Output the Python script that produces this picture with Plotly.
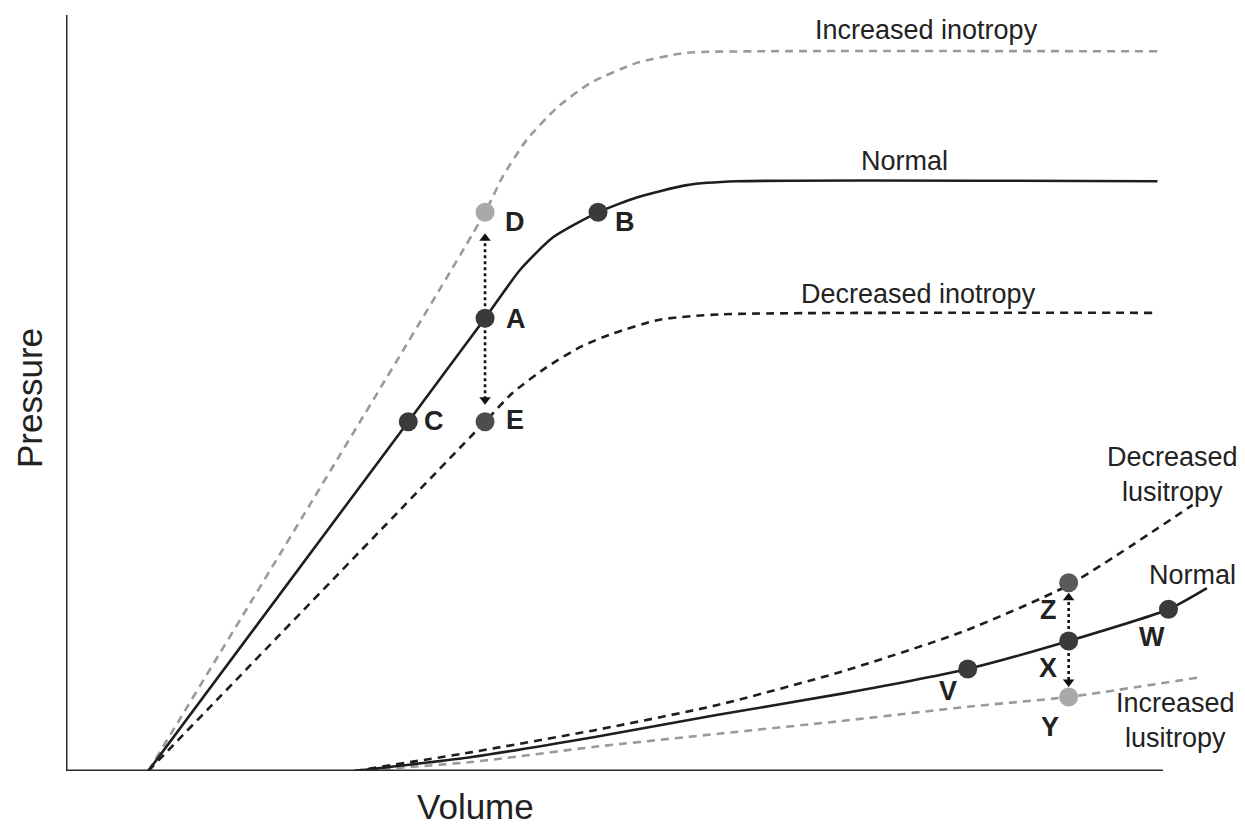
import plotly.graph_objects as go

# ---- End-systolic pressure-volume relations (volume, pressure in arbitrary units) ----
esp_normal_v = [7.5, 31.2, 38.2, 41.4, 44.4, 48.5, 52.1, 56.6, 61.2, 99.5]
esp_normal_p = [0.0, 46.2, 59.9, 66.3, 70.6, 73.9, 75.9, 77.5, 78.0, 78.0]

esp_inc_v = [7.5, 38.2, 39.8, 42.0, 44.8, 47.8, 52.1, 56.6, 63.0, 99.5]
esp_inc_p = [0.0, 73.9, 78.6, 83.5, 87.8, 91.0, 93.7, 95.0, 95.2, 95.2]

esp_dec_v = [7.5, 38.2, 40.7, 43.8, 46.9, 49.9, 54.1, 59.6, 99.5]
esp_dec_p = [0.0, 46.2, 50.0, 53.4, 56.1, 57.9, 59.7, 60.4, 60.6]

# ---- End-diastolic pressure-volume relations ----
edp_normal_v = [26.3, 37.0, 48.2, 59.3, 70.6, 82.2, 91.4, 100.5, 104.0]
edp_normal_p = [0.0, 1.85, 4.5, 7.4, 10.2, 13.5, 17.2, 21.4, 24.2]

edp_declus_v = [26.3, 37.0, 48.2, 59.3, 70.6, 81.7, 91.4, 102.7]
edp_declus_p = [0.0, 2.5, 5.4, 8.7, 13.1, 18.4, 24.6, 35.2]

edp_inclus_v = [26.3, 37.0, 48.2, 59.3, 70.6, 82.2, 91.4, 103.4]
edp_inclus_p = [0.0, 1.2, 3.2, 4.9, 6.6, 8.5, 9.8, 12.4]

# ---- Labelled states ----
pt_names = ["A", "B", "C", "D", "E", "V", "X", "W", "Z", "Y"]
pt_v = [38.2, 48.5, 31.2, 38.2, 38.2, 82.2, 91.4, 100.5, 91.4, 91.4]
pt_p = [59.9, 73.9, 46.2, 73.9, 46.2, 13.5, 17.2, 21.4, 24.9, 9.8]

# ---- Geometry of the drawing ----
W, H = 1245, 827
ML, MB = 66, 56
PX_PER_V = 10.97
PX_PER_P = 7.56
X_RANGE = [0, (W - ML) / PX_PER_V]
Y_RANGE = [0, (H - MB) / PX_PER_P]

FONT = "Liberation Sans, Arial, Helvetica, sans-serif"
TXT = "#222222"
DARK = "#1e1e1e"
GRAY = "#9a9a9a"

fig = go.Figure()


def curve(v, p, color, dash):
    fig.add_trace(go.Scatter(
        x=v, y=p, mode="lines",
        line=dict(color=color, width=2.6, dash=dash, shape="spline", smoothing=0.6),
        hoverinfo="skip", showlegend=False))


curve(esp_inc_v, esp_inc_p, GRAY, "8px,6px")
curve(esp_dec_v, esp_dec_p, DARK, "8px,6px")
curve(esp_normal_v, esp_normal_p, DARK, "solid")
curve(edp_inclus_v, edp_inclus_p, GRAY, "8px,6px")
curve(edp_declus_v, edp_declus_p, DARK, "8px,6px")
curve(edp_normal_v, edp_normal_p, DARK, "solid")

pt = {n: (v, p) for n, v, p in zip(pt_names, pt_v, pt_p)}


# dotted arrows from a reference state towards a shifted state
def dotted_arrow(frm, to, gap_px):
    v0, p0 = pt[frm]
    v1, p1 = pt[to]
    sign = 1 if p1 > p0 else -1
    tip = p1 - sign * gap_px / PX_PER_P
    fig.add_trace(go.Scatter(
        x=[v0, v1], y=[p0, tip], mode="lines",
        line=dict(color="#111111", width=2.6, dash="dot"),
        hoverinfo="skip", showlegend=False))
    fig.add_trace(go.Scatter(
        x=[v1], y=[tip], mode="markers",
        marker=dict(symbol="triangle-up" if sign > 0 else "triangle-down",
                    size=10, color="#111111"),
        hoverinfo="skip", showlegend=False))


dotted_arrow("A", "D", 26)
dotted_arrow("A", "E", 22)
dotted_arrow("X", "Z", 15)
dotted_arrow("X", "Y", 15)

marker_colors = {"A": "#3a3a3a", "B": "#3a3a3a", "C": "#3a3a3a", "D": "#a9a9a9",
                 "E": "#4d4d4d", "V": "#3a3a3a", "X": "#3a3a3a", "W": "#3a3a3a",
                 "Z": "#5a5a5a", "Y": "#a9a9a9"}
fig.add_trace(go.Scatter(
    x=pt_v, y=pt_p, mode="markers",
    marker=dict(size=19, color=[marker_colors[n] for n in pt_names], line=dict(width=0)),
    hoverinfo="skip", showlegend=False))

# state letters, offset in pixels from their markers
label_shift = {"A": (31, -1), "B": (27, -10), "C": (26, 1), "D": (30, -10),
               "E": (30, 2), "V": (-20, -22), "X": (-21, -27), "W": (-16, -28),
               "Z": (-20, -27), "Y": (-19, -30)}
for n in pt_names:
    dx, dy = label_shift[n]
    fig.add_annotation(x=pt[n][0], y=pt[n][1], text=n, showarrow=False,
                       xshift=dx, yshift=dy,
                       font=dict(family=FONT, size=27, color=TXT, weight="bold"))


def px2v(x):
    return (x - ML) / PX_PER_V


def px2p(y):
    return (H - MB - y) / PX_PER_P


def px2paper_x(x):
    return (x - ML) / (W - ML)


def px2paper_y(y):
    return (H - MB - y) / (H - MB)


# curve names
curve_labels = [
    ("Increased inotropy", 926, 30),
    ("Normal", 904, 161),
    ("Decreased inotropy", 918, 294),
    ("Decreased<br>lusitropy", 1172, 474),
    ("Normal", 1192, 575),
    ("Increased<br>lusitropy", 1175, 720),
]
for text, x, y in curve_labels:
    fig.add_annotation(x=px2v(x), y=px2p(y), text=text, showarrow=False,
                       align="center", font=dict(family=FONT, size=27, color=TXT))

# axis titles (placed in paper space, outside the plotting area)
fig.add_annotation(x=px2paper_x(475), y=px2paper_y(806), xref="paper", yref="paper",
                   xanchor="center", yanchor="middle",
                   text="Volume", showarrow=False,
                   font=dict(family=FONT, size=35, color=TXT))
fig.add_annotation(x=px2paper_x(30), y=px2paper_y(398), xref="paper", yref="paper",
                   xanchor="center", yanchor="middle",
                   text="Pressure", showarrow=False, textangle=-90,
                   font=dict(family=FONT, size=35, color=TXT))

# axis lines
fig.add_shape(type="line", x0=0, x1=100, y0=0, y1=0, xref="x", yref="y",
              line=dict(color="#2a2a2a", width=3))
fig.add_shape(type="line", x0=0, x1=0, y0=0, y1=100, xref="x", yref="y",
              line=dict(color="#2a2a2a", width=3))

fig.update_layout(
    width=W, height=H,
    margin=dict(l=ML, r=0, t=0, b=MB),
    paper_bgcolor="white", plot_bgcolor="white",
    xaxis=dict(range=X_RANGE, visible=False, fixedrange=True),
    yaxis=dict(range=Y_RANGE, visible=False, fixedrange=True),
    showlegend=False,
)

fig.write_html("out.html")
